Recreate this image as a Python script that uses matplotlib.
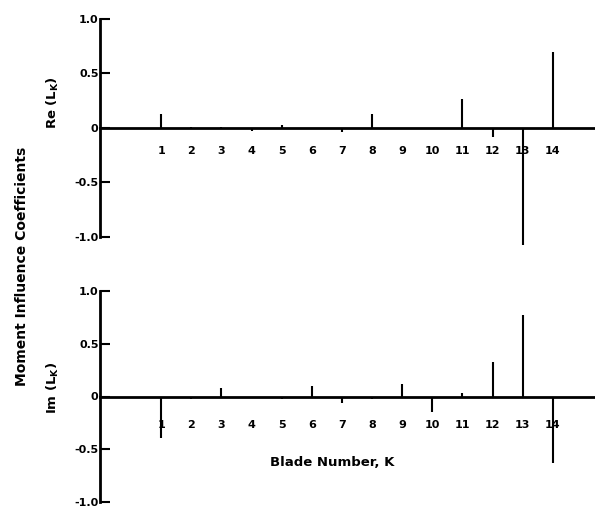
import matplotlib.pyplot as plt

plt.rcParams['font.family'] = ['DejaVu Sans']
plt.rcParams['font.weight'] = 'bold'
plt.rcParams['mathtext.default'] = 'bf'

# Blade numbers and moment influence coefficients
blades = list(range(1, 15))
re_lk = [0.13, 0.01, 0.01, -0.03, 0.03, -0.01, -0.04, 0.13, -0.01, -0.01, 0.27, -0.08, -1.07, 0.70]
im_lk = [-0.39, -0.02, 0.08, 0.0, -0.02, 0.10, -0.06, -0.02, 0.12, -0.15, 0.03, 0.33, 0.77, -0.63]
ytick_vals = [1.0, 0.5, 0.0, -0.5, -1.0]
ytick_labels = ['1.0', '0.5', '0', '-0.5', '-1.0']

W, H = 595, 513
fig = plt.figure(figsize=(W / 100, H / 100), dpi=100)

left = 100 / W
ax1 = fig.add_axes([left, 1 - 250 / H, 1 - left, (250 - 13.5) / H])
ax2 = fig.add_axes([left, 1 - 507 / H, 1 - left, (507 - 286) / H])


def style(ax, vals, ylim, pad):
    ax.vlines(blades, 0, vals, color='black', linewidth=1.5)
    ax.set_xlim(-1.03, 15.4)
    ax.set_ylim(*ylim)
    for s in ['top', 'right']:
        ax.spines[s].set_visible(False)
    ax.spines['bottom'].set_position(('data', 0))
    ax.spines['bottom'].set_linewidth(2.0)
    ax.spines['left'].set_linewidth(2.0)
    ax.spines['left'].set_bounds(-1, 1)
    ax.set_xticks(blades)
    ax.set_xticklabels([str(b) for b in blades], fontsize=8, fontweight='bold')
    ax.tick_params(axis='x', length=0, pad=pad)
    ax.set_yticks(ytick_vals)
    ax.set_yticklabels(ytick_labels, fontsize=8, fontweight='bold')
    ax.tick_params(axis='y', direction='in', length=7, width=1.5, pad=1)


style(ax1, re_lk, (-1.12, 1.05), 13)
style(ax2, im_lk, (-1.05, 1.05), 17)

fig.text(22 / W, 1 - 266 / H, 'Moment Influence Coefficients', rotation=90,
         ha='center', va='center', fontsize=10, fontweight='bold')
fig.text(53 / W, 1 - 103 / H, r'Re (L$_{K}$)', rotation=90,
         ha='center', va='center', fontsize=9.5, fontweight='bold')
fig.text(53 / W, 1 - 388 / H, r'Im (L$_{K}$)', rotation=90,
         ha='center', va='center', fontsize=9.5, fontweight='bold')
fig.text(332 / W, 1 - 462 / H, 'Blade Number, K',
         ha='center', va='center', fontsize=9.5, fontweight='bold')

fig.savefig('out.png', dpi=100)
